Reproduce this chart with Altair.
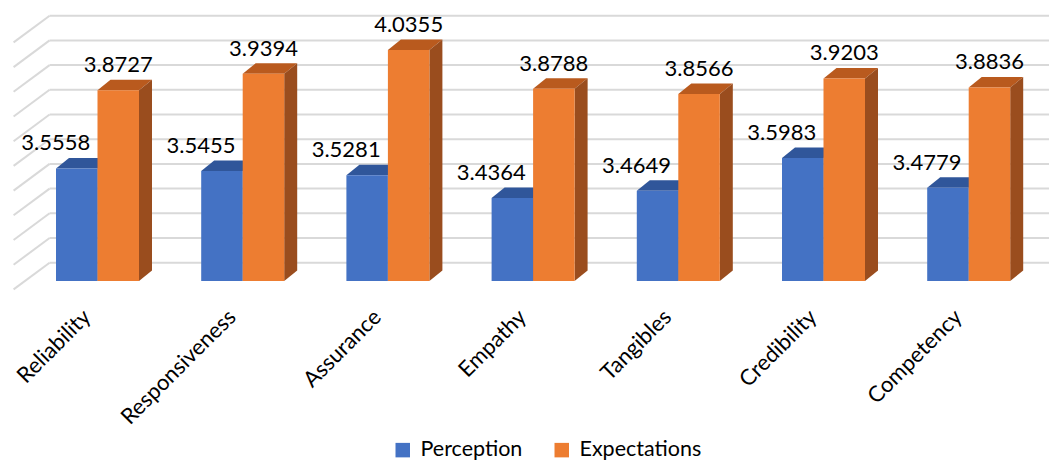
import altair as alt
import pandas as pd

# ---- data -------------------------------------------------------------
categories = ["Reliability", "Responsiveness", "Assurance", "Empathy",
              "Tangibles", "Credibility", "Competency"]
perception = [3.5558, 3.5455, 3.5281, 3.4364, 3.4649, 3.5983, 3.4779]
expectations = [3.8727, 3.9394, 4.0355, 3.8788, 3.8566, 3.9203, 3.8836]
series_names = ["Perception", "Expectations"]
grid_values = [3.1, 3.2, 3.3, 3.4, 3.5, 3.6, 3.7, 3.8, 3.9, 4.0, 4.1]

# ---- style ------------------------------------------------------------
FONT = "Lato"
front_colors = ["#4472C4", "#ED7D31"]
top_colors = ["#30569A", "#B95A1E"]
side_colors = ["#2B4C88", "#9A4D1E"]
GRID_COLOR = "#D9D9D9"
label_dx = {"Perception": -21, "Expectations": 0}

# ---- layout (pixels) --------------------------------------------------
W, H = 1049, 292          # plot area
STEP = 145.2              # px between category centres
FIRST = 97.5              # px of first category centre
K = 247.0                 # px per score unit
BASE = 3.1                # score at the floor
BASE_PX = 281             # px of the floor on the front plane
BAR_PX = 41.5             # bar width
DEPTH = (13.0, 10.5)      # oblique offset of a bar's back face
WALL = (24.7, 18.3)       # oblique offset of the back wall
FLOOR = (-11.3, -8.4)     # oblique offset of the floor front edge

x_dom = [(0 - FIRST) / STEP, (W - FIRST) / STEP]
y_dom = [BASE - (H - BASE_PX) / K, BASE + BASE_PX / K]
bw = BAR_PX / STEP
ddx, ddy = DEPTH[0] / STEP, DEPTH[1] / K
wdx, wdy = WALL[0] / STEP, WALL[1] / K
fdx, fdy = FLOOR[0] / STEP, FLOOR[1] / K
wall_x = -0.5

xs = alt.Scale(domain=x_dom, nice=False, zero=False)
ys = alt.Scale(domain=y_dom, nice=False, zero=False)

label_expr = "[" + ",".join(f"'{c}'" for c in categories) + "][datum.value]"
x_axis = alt.Axis(values=list(range(len(categories))), labelExpr=label_expr,
                  labelAngle=315, labelAlign="right", labelBaseline="middle",
                  labelFont=FONT, labelFontSize=22, labelColor="#000000",
                  labelPadding=21, labelOffset=-11, labelOverlap=False,
                  labelFlush=False, labelBound=False,
                  domain=False, ticks=False, grid=False, title=None)

# ---- geometry tables --------------------------------------------------
front_rows, top_rows, side_rows = [], [], []
for s, (name, vals) in enumerate(zip(series_names, [perception, expectations])):
    for i, (cat, v) in enumerate(zip(categories, vals)):
        x0 = i - bw + s * bw
        x1 = x0 + bw
        bar = f"{name}-{cat}"
        front_rows.append(dict(bar=bar, series=name, order=s, x0=x0, x1=x1,
                               xc=(x0 + x1) / 2, base=BASE, v=v))
        top_rows += [
            dict(bar=bar, order=s, col=top_colors[s], yy=v, xa=x0, xb=x1),
            dict(bar=bar, order=s, col=top_colors[s], yy=v + ddy, xa=x0 + ddx, xb=x1 + ddx),
        ]
        side_rows += [
            dict(bar=bar, order=s, col=side_colors[s], xx=x1, ya=BASE, yb=v),
            dict(bar=bar, order=s, col=side_colors[s], xx=x1 + ddx, ya=BASE + ddy, yb=v + ddy),
        ]
front = pd.DataFrame(front_rows)
tops = pd.DataFrame(top_rows)
sides = pd.DataFrame(side_rows)

grid = pd.DataFrame({"g": grid_values})
grid["bx"] = wall_x + wdx
grid["ex"] = x_dom[1]
grid["by"] = grid["g"] + wdy
grid["fx"] = wall_x + fdx
grid["fy"] = grid["g"] + fdy

# ---- layers -----------------------------------------------------------
back_lines = alt.Chart(grid).mark_rule(color=GRID_COLOR, strokeWidth=2).encode(
    x=alt.X("bx:Q", scale=xs, axis=x_axis), x2="ex:Q",
    y=alt.Y("by:Q", scale=ys, axis=None), y2="by:Q")

side_lines = alt.Chart(grid).mark_rule(color=GRID_COLOR, strokeWidth=2).encode(
    x=alt.X("fx:Q", scale=xs, axis=x_axis), x2="bx:Q",
    y=alt.Y("fy:Q", scale=ys, axis=None), y2="by:Q")

top_faces = alt.Chart(tops).mark_area(orient="horizontal").encode(
    y=alt.Y("yy:Q", scale=ys, axis=None),
    x=alt.X("xa:Q", scale=xs, axis=x_axis), x2="xb:Q",
    detail="bar:N",
    color=alt.Color("col:N", scale=None, legend=None))

side_faces = alt.Chart(sides).mark_area(orient="vertical").encode(
    x=alt.X("xx:Q", scale=xs, axis=x_axis),
    y=alt.Y("ya:Q", scale=ys, axis=None), y2="yb:Q",
    detail="bar:N",
    color=alt.Color("col:N", scale=None, legend=None))

front_faces = alt.Chart(front).mark_rect().encode(
    x=alt.X("x0:Q", scale=xs, axis=x_axis),
    x2="x1:Q",
    y=alt.Y("base:Q", scale=ys, axis=None), y2="v:Q",
    color=alt.Color("series:N",
                    scale=alt.Scale(domain=series_names, range=front_colors),
                    sort=series_names,
                    legend=alt.Legend(orient="none", legendX=392, legendY=439,
                                      direction="horizontal", title=None,
                                      symbolType="square", symbolSize=210,
                                      symbolStrokeWidth=0, labelFont=FONT,
                                      labelFontSize=21.5, labelColor="#000000",
                                      labelOffset=7, columnPadding=28,
                                      padding=0)))

value_labels = []
for name in series_names:
    value_labels.append(
        alt.Chart(front[front["series"] == name]).mark_text(
            font=FONT, fontSize=22, color="#000000", baseline="alphabetic",
            align="center", dy=-18, dx=label_dx[name]).encode(
            x=alt.X("xc:Q", scale=xs, axis=x_axis),
            y=alt.Y("v:Q", scale=ys, axis=None),
            text=alt.Text("v:Q", format=".4f")))

chart = alt.layer(back_lines, side_lines, top_faces, side_faces, front_faces,
                  *value_labels).resolve_scale(color="independent").properties(
    width=W, height=H,
    autosize=alt.AutoSizeParams(type="none"),
    padding={"left": 0, "top": 0, "right": 0, "bottom": 461 - H},
    background="white",
).configure_view(stroke=None)

chart.save("out.html", embed_options={"renderer": "svg", "actions": False})
